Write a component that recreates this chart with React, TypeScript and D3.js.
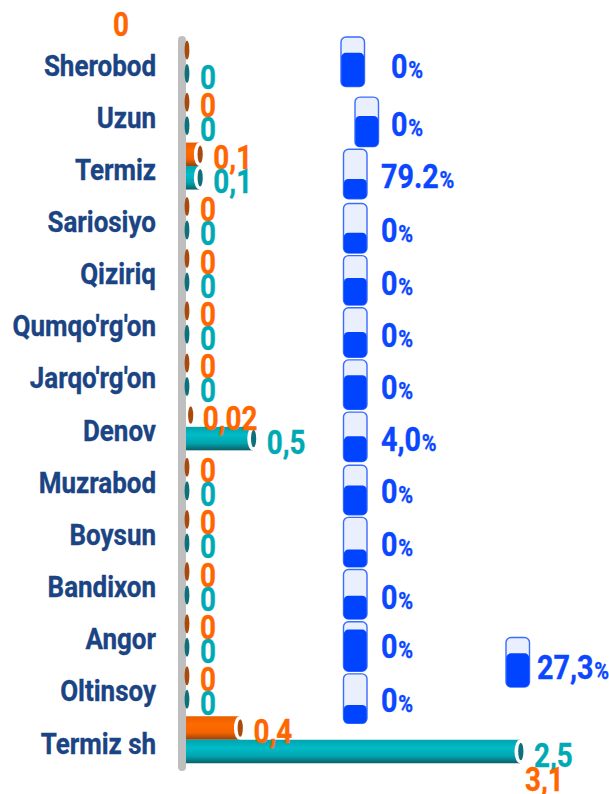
import React from "react";
import * as d3 from "d3";

const categories = ["Sherobod","Uzun","Termiz","Sariosiyo","Qiziriq","Qumqo'rg'on","Jarqo'rg'on","Denov","Muzrabod","Boysun","Bandixon","Angor","Oltinsoy","Termiz sh"];
const orangeValues = [0,0,0.1,0,0,0,0,0.02,0,0,0,0,0,0.4];
const tealValues = [0,0,0.1,0,0,0,0,0.5,0,0,0,0,0,2.5];
const orangeLabels = ["0","0","0,1","0","0","0","0","0,02","0","0","0","0","0","0,4"];
const tealLabels = ["0","0","0,1","0","0","0","0","0,5","0","0","0","0","0","2,5"];
const gaugeLabels = ["0","0","79.2","0","0","0","0","4,0","0","0","0","0","0"];
const gaugeLevels = [0.68,0.62,0.4,0.41,0.55,0.51,0.69,0.51,0.59,0.35,0.47,0.84,0.37];
const totalGaugeLabel = "27,3";
const totalGaugeLevel = 0.68;
const totalLabel = "3,1";

// layout nudges, relative to each category's position
const gaugeLeft = [341,355,343.5,343.5,343.5,343.5,343.5,343.5,343.5,343.5,343.5,343.5,343.5];
const gaugeDy = [-25,-17,-17,-15,-15,-15,-15,-15,-14,-14,-14,-14,-14];
const gaugeTextX = [391,391,381,381,381,381,381,381,381,381,381,381,381];
const gaugeTextDy = [16,22,22,24,24,24,24,24,24,25,25,22,24];

const W = 609, H = 794;
const y = d3.scalePoint<string>().domain(categories).range([62, 740]);
const x = d3.scaleLinear().domain([0, 2.5]).range([186, 520]);
const BAR = 23.5;
const GW = 23.5, GH = 49.5;
const level = d3.scaleLinear().domain([0, 1]).range([0, GH]);

const ORANGE = "#ff6600", TEAL = "#00aab4", BLUE = "#0a47ff", NAVY = "#1a4484";
const FONT = "Roboto, sans-serif";

function Label({ x, y, size = 33.5, anchor = "start", fill, children, sx = 0.83 }: any) {
  return (
    <text transform={`translate(${x},${y}) scale(${sx},1)`} fontFamily={FONT} fontWeight={700}
      fontSize={size} textAnchor={anchor} fill={fill} stroke={fill} strokeWidth={0.35}>{children}</text>
  );
}

function Cylinder({ value, cy, grad, dark }: any) {
  const x0 = x(0), x1 = x(value);
  if (value === 0) {
    return <ellipse cx={x0 + 1} cy={cy} rx={2.4} ry={9.5} fill={dark} />;
  }
  const small = x1 - x0 < 6;
  const end = small ? x1 + 2 : x1;
  return (
    <g>
      {!small && <rect x={x0} y={cy - BAR / 2} width={x1 - x0} height={BAR} fill={`url(#${grad})`} />}
      <ellipse cx={end} cy={cy} rx={small ? 2.6 : 5.5} ry={small ? 9.5 : BAR / 2} fill="#fff" />
      <ellipse cx={end + (small ? 0 : 0.8)} cy={cy} rx={2.6} ry={BAR / 2 - 3} fill={dark} />
    </g>
  );
}

function Gauge({ left, top, lev }: any) {
  const h = level(lev);
  return (
    <g>
      <rect x={left} y={top} width={GW} height={GH} rx={5} fill="#e9effd" stroke="#3a6cff" strokeWidth={1.4} />
      <rect x={left + 0.3} y={top + GH - h} width={GW - 0.6} height={h} rx={4.5} fill="#0044ff" />
    </g>
  );
}

function GaugeText({ xPos, yPos, text }: any) {
  return (
    <Label x={xPos} y={yPos} size={33} fill={BLUE} sx={0.87}>
      {text}<tspan fontSize={23} dx={1}>%</tspan>
    </Label>
  );
}

export default function App() {
  return (
    <svg width={W} height={H} viewBox={`0 0 ${W} ${H}`}
      style={{ position: "absolute", left: 0, top: 0, background: "#fff" }}>
      <defs>
        <linearGradient id="gOrange" x1="0" y1="0" x2="0" y2="1">
          <stop offset="0" stopColor="#e85f00" />
          <stop offset="0.35" stopColor="#ff6a00" />
          <stop offset="0.7" stopColor="#f56400" />
          <stop offset="1" stopColor="#8f4210" />
        </linearGradient>
        <linearGradient id="gTeal" x1="0" y1="0" x2="0" y2="1">
          <stop offset="0" stopColor="#00a3ad" />
          <stop offset="0.35" stopColor="#00bcc8" />
          <stop offset="0.7" stopColor="#00a4ae" />
          <stop offset="1" stopColor="#0b5f66" />
        </linearGradient>
      </defs>

      <rect x={178} y={36} width={8} height={735} rx={4} fill="#bfbfbf" />

      {categories.map((c, i) => {
        const cy = y(c)!;
        return (
          <g key={c}>
            <Label x={156} y={cy + 13.5} size={29.5} anchor="end" fill={NAVY} sx={0.88}>{c}</Label>
            <Cylinder value={orangeValues[i]} cy={cy - 12} grad="gOrange" dark="#a84a0c" />
            <Cylinder value={tealValues[i]} cy={cy + 11.5} grad="gTeal" dark="#0e7078" />
          </g>
        );
      })}

      {categories.map((c, i) => {
        const cy = y(c)!;
        const ov = orangeValues[i], tv = tealValues[i];
        const oX = ov === 0 ? 200 : x(ov) + 14;
        const tX = tv === 0 ? 200 : x(tv) + 14;
        return (
          <g key={c + "l"}>
            {i === 0
              ? <Label x={113} y={cy - 26} fill={ORANGE}>{orangeLabels[i]}</Label>
              : <Label x={oX} y={cy + 3} fill={ORANGE}>{orangeLabels[i]}</Label>}
            <Label x={tX} y={cy + 27} fill={TEAL}>{tealLabels[i]}</Label>
          </g>
        );
      })}
      <Label x={525} y={791} fill={ORANGE}>{totalLabel}</Label>

      {gaugeLevels.map((lv, i) => {
        const cy = y(categories[i])!;
        return (
          <g key={i}>
            <Gauge left={gaugeLeft[i]} top={cy + gaugeDy[i]} lev={lv} />
            <GaugeText xPos={gaugeTextX[i]} yPos={cy + gaugeTextDy[i]} text={gaugeLabels[i]} />
          </g>
        );
      })}
      <Gauge left={506} top={637.5} lev={totalGaugeLevel} />
      <GaugeText xPos={537} yPos={679} text={totalGaugeLabel} />
    </svg>
  );
}
